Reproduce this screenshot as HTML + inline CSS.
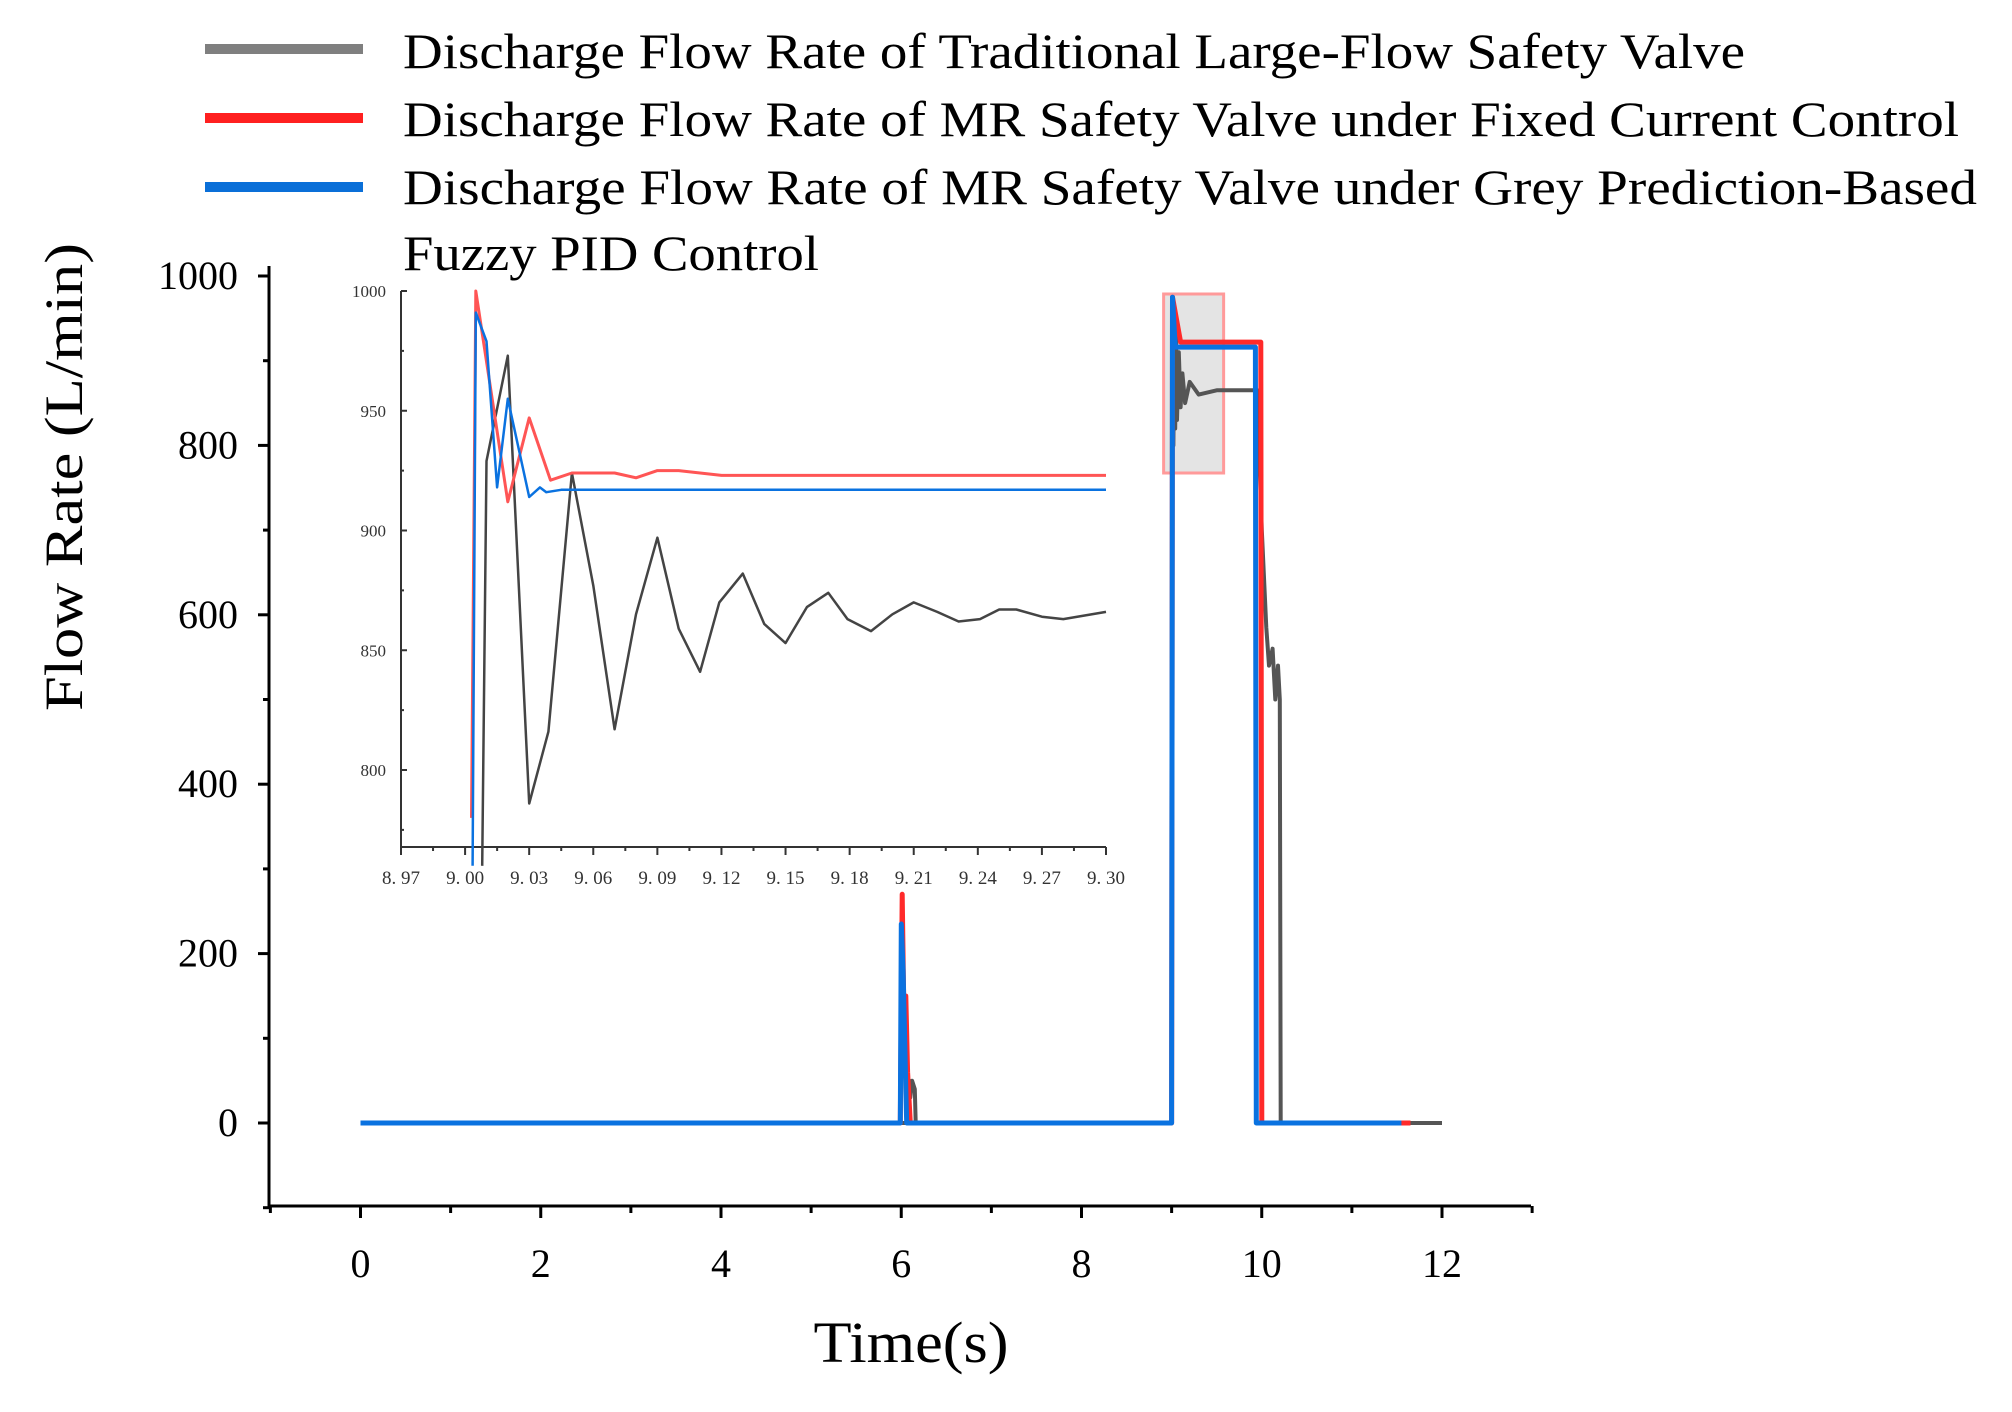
<!DOCTYPE html>
<html><head><meta charset="utf-8"><style>
html,body{margin:0;padding:0;background:#fff;}
svg{display:block;font-family:"Liberation Serif",serif;}
</style></head><body>
<svg id="chart" width="2012" height="1412" viewBox="0 0 2012 1412" xmlns="http://www.w3.org/2000/svg">
<g id="legend">
  <line x1="205" y1="49" x2="363" y2="49" stroke="#7f7f7f" stroke-width="10"/>
  <text x="403" y="68" font-size="50" textLength="1342" lengthAdjust="spacingAndGlyphs">Discharge Flow Rate of Traditional Large-Flow Safety Valve</text>
  <line x1="205" y1="118" x2="363" y2="118" stroke="#ff2020" stroke-width="10"/>
  <text x="403" y="136" font-size="50" textLength="1556" lengthAdjust="spacingAndGlyphs">Discharge Flow Rate of MR Safety Valve under Fixed Current Control</text>
  <line x1="205" y1="187" x2="363" y2="187" stroke="#0a6fd8" stroke-width="10"/>
  <text x="403" y="204" font-size="50" textLength="1574" lengthAdjust="spacingAndGlyphs">Discharge Flow Rate of MR Safety Valve under Grey Prediction-Based</text>
  <text x="403" y="270" font-size="50" textLength="416" lengthAdjust="spacingAndGlyphs">Fuzzy PID Control</text>
</g>
<g id="main"></g>
<g id="inset"></g>
<text x="911" y="1362" font-size="58" text-anchor="middle" textLength="195" lengthAdjust="spacingAndGlyphs">Time(s)</text>
<text transform="translate(82,477) rotate(-90)" font-size="54" text-anchor="middle" textLength="468" lengthAdjust="spacingAndGlyphs">Flow Rate (L/min)</text>
</svg>
<script>
// ---- main chart data ----
const xTicks = [0, 2, 4, 6, 8, 10, 12];
const yTicks = [0, 200, 400, 600, 800, 1000];
const greyT = [0, 6.08, 6.09, 6.1, 6.12, 6.15, 6.16, 9.0, 9.01, 9.02, 9.03, 9.04, 9.05, 9.06, 9.08, 9.1, 9.12, 9.15, 9.2, 9.3, 9.5, 9.95, 10.0, 10.05, 10.08, 10.12, 10.15, 10.18, 10.2, 10.21, 12];
const greyV = [0, 0, 50, 30, 50, 40, 0, 0, 960, 800, 950, 820, 930, 830, 910, 845, 885, 850, 875, 860, 865, 865, 700, 585, 540, 560, 500, 540, 500, 0, 0];
const redT = [0, 5.99, 6.01, 6.03, 6.05, 6.07, 6.1, 9.0, 9.01, 9.1, 9.99, 10.0, 11.65];
const redV = [0, 0, 270, 120, 150, 60, 0, 0, 975, 922, 922, 0, 0];
const blueT = [0, 5.99, 6.0, 6.02, 6.05, 6.06, 9.0, 9.01, 9.04, 9.05, 9.93, 9.94, 11.55];
const blueV = [0, 0, 235, 180, 40, 0, 0, 975, 916, 916, 916, 0, 0];
// ---- inset data ----
const insetXTicks = ["8.97","9.00","9.03","9.06","9.09","9.12","9.15","9.18","9.21","9.24","9.27","9.30"];
const insetYTicks = [800, 850, 900, 950, 1000];
const inGreyT = [9.008, 9.010, 9.020, 9.030, 9.039, 9.050, 9.060, 9.070, 9.080, 9.090, 9.100, 9.110, 9.119, 9.130, 9.140, 9.150, 9.160, 9.170, 9.179, 9.190, 9.200, 9.210, 9.221, 9.231, 9.241, 9.250, 9.258, 9.270, 9.280, 9.300];
const inGreyV = [760, 929, 973, 786, 816, 924, 877, 817, 865, 897, 859, 841, 870, 882, 861, 853, 868, 874, 863, 858, 865, 870, 866, 862, 863, 867, 867, 864, 863, 866];
const inRedT = [9.003, 9.005, 9.020, 9.030, 9.040, 9.050, 9.070, 9.080, 9.090, 9.100, 9.120, 9.300];
const inRedV = [780, 1000, 912, 947, 921, 924, 924, 922, 925, 925, 923, 923];
const inBlueT = [9.0035, 9.005, 9.010, 9.015, 9.020, 9.030, 9.035, 9.038, 9.045, 9.300];
const inBlueV = [760, 991, 979, 918, 955, 914, 918, 916, 917, 917];

const NS = "http://www.w3.org/2000/svg";
function mk(tag, attrs, parent) { const e = document.createElementNS(NS, tag); for (const k in attrs) e.setAttribute(k, attrs[k]); parent.appendChild(e); return e; }

const X = t => 360.5 + (t - 0) * (1442 - 360.5) / 12;
const Y = v => 1123 - v * 0.847;
const main = document.getElementById('main');
const ax = mk('path', {d: `M269 266 V1206 H1531`, fill: 'none', stroke: '#000', 'stroke-width': 3}, main);


for (let v = -100; v <= 1000; v += 100) {
  const major = v % 200 === 0;
  const tk = mk('line', {x1: 269, x2: major ? 258 : 263, y1: Y(v), y2: Y(v), stroke: '#000', 'stroke-width': 3}, main);
  
  
}
yTicks.forEach(v => {
  const t = mk('text', {x: 238, y: Y(v) + 13, 'font-size': 40, 'text-anchor': 'end'}, main);
  t.textContent = v;
  
  
});
for (let t = -1; t <= 13; t += 1) {
  const major = t % 2 === 0;
  const tk = mk('line', {x1: X(t), x2: X(t), y1: 1206, y2: major ? 1218 : 1213, stroke: '#000', 'stroke-width': 3}, main);
  
  
}
xTicks.forEach(t => {
  const e = mk('text', {x: X(t), y: 1277, 'font-size': 40, 'text-anchor': 'middle'}, main);
  e.textContent = t;
  
  
});
const zb = mk('rect', {x: X(9.0) - 8, y: 294, width: 60, height: 179, fill: '#e4e4e4', stroke: '#ff9a9a', 'stroke-width': 3}, main);


function series(ts, vs, fx, fy, color, w, parent, name) {
  const d = ts.map((t, i) => (i ? 'L' : 'M') + fx(t).toFixed(1) + ' ' + fy(vs[i]).toFixed(1)).join(' ');
  const p = mk('path', {d, fill: 'none', stroke: color, 'stroke-width': w, 'stroke-linejoin': 'round'}, parent);
  
  
}
series(greyT, greyV, X, Y, '#555', 4, main, 'line-traditional');
series(redT, redV, X, Y, '#ff2a2a', 5, main, 'line-fixed-current');
series(blueT, blueV, X, Y, '#0a72e0', 5, main, 'line-grey-fuzzy-pid');

const IX = t => 401 + (t - 8.97) * (1106 - 401) / 0.33;
const IY = v => 291 + (1000 - v) * 479 / 200;
const inset = document.getElementById('inset');
const ia = mk('path', {d: `M401 291 V847 H1106`, fill: 'none', stroke: '#333', 'stroke-width': 2}, inset);


for (let v = 775; v <= 1000; v += 25) {
  const tk = mk('line', {x1: 401, x2: v % 50 === 0 ? 407 : 404, y1: IY(v), y2: IY(v), stroke: '#333', 'stroke-width': 2}, inset);
  
  
}
insetYTicks.forEach(v => {
  const e = mk('text', {x: 386, y: IY(v) + 6, 'font-size': 17, 'text-anchor': 'end', fill: '#333'}, inset);
  e.textContent = v;
  
  
});
for (let i = 0; i <= 22; i++) {
  const t = 8.97 + i * 0.015;
  const tk = mk('line', {x1: IX(t), x2: IX(t), y1: 847, y2: i % 2 === 0 ? 855 : 851, stroke: '#333', 'stroke-width': 2}, inset);
  
  
}
insetXTicks.forEach(s => {
  const e = mk('text', {x: IX(parseFloat(s)), y: 884, 'font-size': 19, 'text-anchor': 'middle', fill: '#333'}, inset);
  e.textContent = s.replace('.', '. ');
  
  
});
series(inGreyT, inGreyV, IX, IY, '#444', 2.5, inset, 'inset-line-traditional');
series(inRedT, inRedV, IX, IY, '#ff5555', 3, inset, 'inset-line-fixed-current');
series(inBlueT, inBlueV, IX, IY, '#0a72e0', 2.5, inset, 'inset-line-grey-fuzzy-pid');
</script>
</body></html>
